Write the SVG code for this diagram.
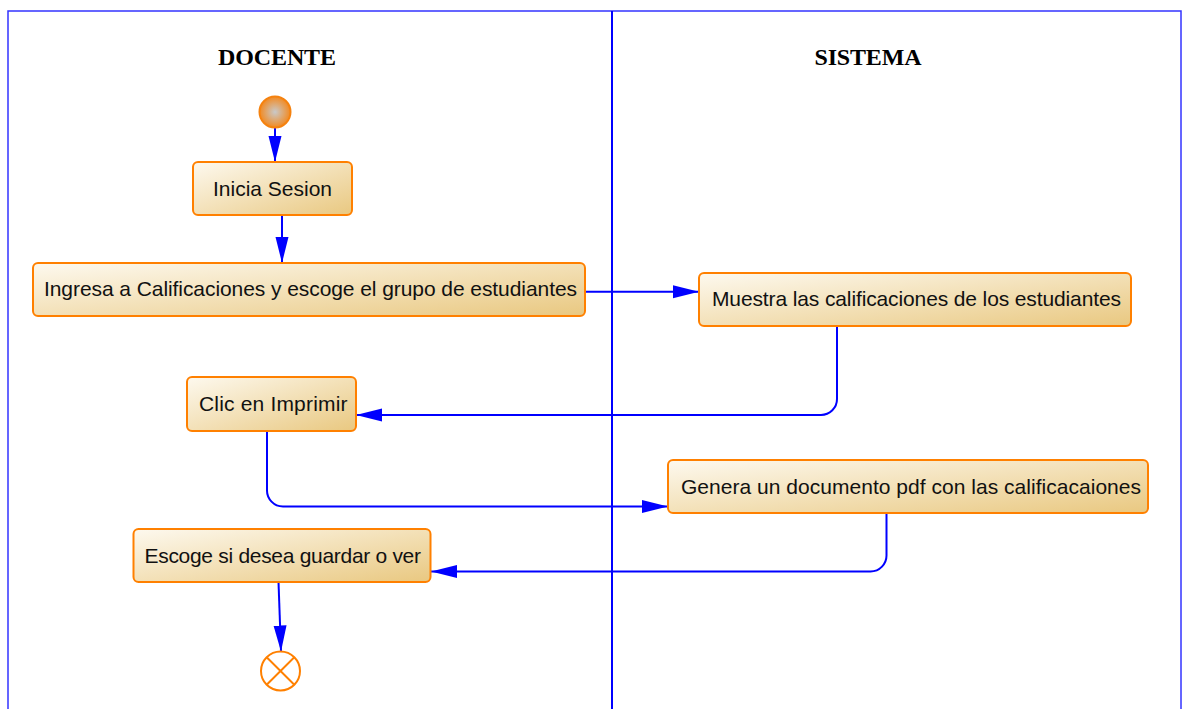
<svg xmlns="http://www.w3.org/2000/svg" width="1183" height="709" viewBox="0 0 1183 709">
<defs>
  <linearGradient id="boxFill" x1="0" y1="0" x2="1" y2="1">
    <stop offset="0" stop-color="#fdf9ef"/>
    <stop offset="1" stop-color="#e9c880"/>
  </linearGradient>
  <radialGradient id="startFill" cx="0.5" cy="0.5" r="0.5">
    <stop offset="0" stop-color="#c9c9c9"/>
    <stop offset="1" stop-color="#f28a22"/>
  </radialGradient>
  <marker id="arrow" markerUnits="userSpaceOnUse" markerWidth="27" markerHeight="14" refX="26" refY="7" orient="auto">
    <path d="M0,0.5 L26,7 L0,13.5 z" fill="#0000ff"/>
  </marker>
  <style>
    .box { fill: url(#boxFill); stroke: #ff8000; stroke-width: 2; }
    .lbl { font-family: "Liberation Sans", Arial, sans-serif; font-size: 21px; fill: #111; }
    .lane { font-family: "Liberation Serif", "Times New Roman", serif; font-size: 24px; font-weight: bold; fill: #000; }
    .conn { fill: none; stroke: #0000ff; stroke-width: 2; }
    .frame { fill: none; stroke: #3333ff; stroke-width: 1.5; }
  </style>
</defs>
<rect width="1183" height="709" fill="#fff"/>
<g id="swimlanes">
  <rect class="frame" x="8" y="11" width="1173" height="710"/>
  <line x1="612" y1="11" x2="612" y2="709" stroke="#0000ff" stroke-width="2"/>
  <text class="lane" x="277" y="65" text-anchor="middle" textLength="118">DOCENTE</text>
  <text class="lane" x="868" y="65" text-anchor="middle" textLength="107">SISTEMA</text>
</g>
<g id="connectors">
  <path class="conn" d="M275,128 V162" marker-end="url(#arrow)"/>
  <path class="conn" d="M282,215 V263" marker-end="url(#arrow)"/>
  <path class="conn" d="M585,291.7 H699" marker-end="url(#arrow)"/>
  <path class="conn" d="M837,326 V399 A16,16 0 0 1 821,415 H356" marker-end="url(#arrow)"/>
  <path class="conn" d="M267,431 V490 A16,16 0 0 0 283,506.5 H668" marker-end="url(#arrow)"/>
  <path class="conn" d="M886.5,513 V555 A16,16 0 0 1 870.5,571.5 H431" marker-end="url(#arrow)"/>
  <path class="conn" d="M278.5,582 L281,651.5" marker-end="url(#arrow)"/>
</g>
<g id="start">
  <circle cx="275" cy="112" r="15.5" fill="url(#startFill)" stroke="#f5820f" stroke-width="2"/>
</g>
<g id="inicia">
  <rect class="box" x="193" y="162" width="159" height="53" rx="5"/>
  <text class="lbl" x="272.5" y="196" text-anchor="middle" textLength="119">Inicia Sesion</text>
</g>
<g id="ingresa">
  <rect class="box" x="33" y="263" width="552" height="53" rx="5"/>
  <text class="lbl" x="44" y="296" textLength="533">Ingresa a Calificaciones y escoge el grupo de estudiantes</text>
</g>
<g id="muestra">
  <rect class="box" x="699" y="273" width="432" height="53" rx="5"/>
  <text class="lbl" x="712" y="306" textLength="409">Muestra las calificaciones de los estudiantes</text>
</g>
<g id="clic">
  <rect class="box" x="187" y="377" width="169" height="54" rx="5"/>
  <text class="lbl" x="199" y="411" textLength="148.5">Clic en Imprimir</text>
</g>
<g id="genera">
  <rect class="box" x="668" y="460" width="480" height="53" rx="5"/>
  <text class="lbl" x="681" y="494" textLength="460">Genera un documento pdf con las calificacaiones</text>
</g>
<g id="escoge">
  <rect class="box" x="133.5" y="529" width="297" height="53" rx="5"/>
  <text class="lbl" x="144.5" y="563" textLength="276.5">Escoge si desea guardar o ver</text>
</g>
<g id="end">
  <circle cx="280.5" cy="671" r="19.5" fill="#fff" stroke="#ff8000" stroke-width="2"/>
  <path d="M266.7,657.2 L294.3,684.8 M294.3,657.2 L266.7,684.8" stroke="#ff8000" stroke-width="2"/>
</g>
</svg>
